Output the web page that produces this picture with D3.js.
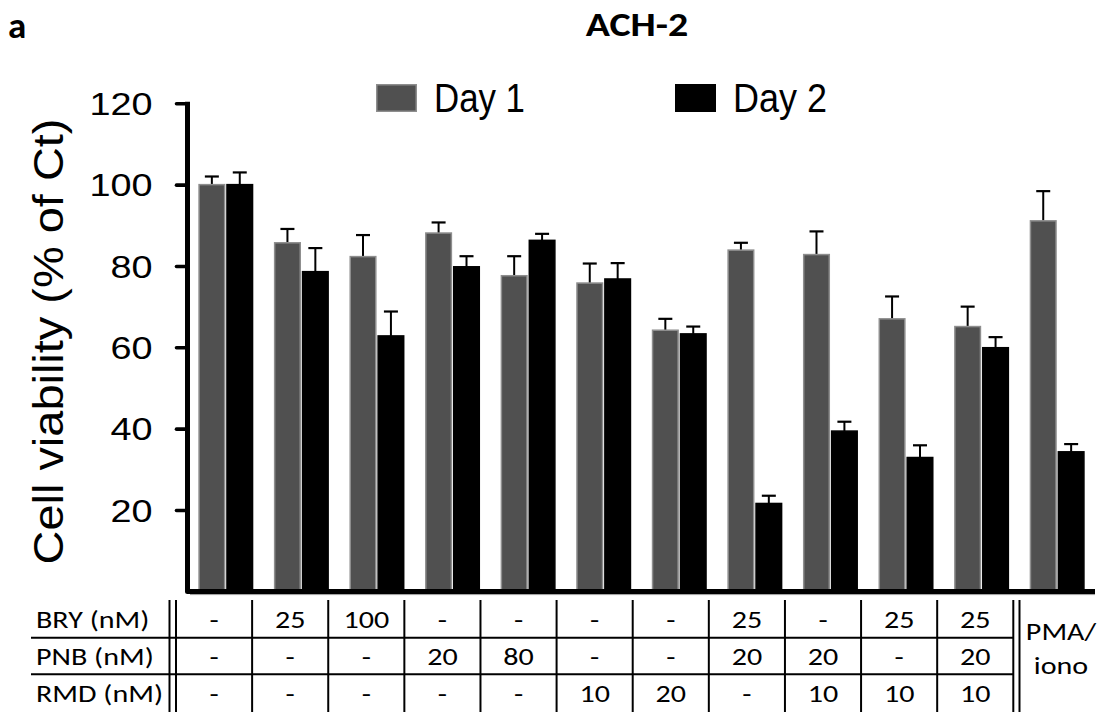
<!DOCTYPE html>
<html>
<head>
<meta charset="utf-8">
<script src="https://cdn.jsdelivr.net/npm/d3@7"></script>
<style>
  html, body { margin: 0; padding: 0; background: #fff; }
  svg { display: block; }
</style>
</head>
<body>
<svg id="chart" width="1101" height="712"></svg>
<script>
// Treatment conditions (one bar pair each)
const conditions = ["Ct", "BRY 25", "BRY 100", "PNB 20", "PNB 80", "RMD 10", "RMD 20",
  "BRY 25 + PNB 20", "PNB 20 + RMD 10", "BRY 25 + RMD 10", "BRY 25 + PNB 20 + RMD 10", "PMA/iono"];
const seriesNames = ["Day 1", "Day 2"];

// Cell viability (% of control) and upper error
const day1 = [100, 85.7, 82.3, 88.1, 77.6, 75.8, 64.2, 83.9, 82.8, 67.0, 65.1, 91.1];
const day1Err = [2.0, 3.4, 5.3, 2.6, 4.8, 4.8, 2.8, 1.8, 5.7, 5.5, 4.9, 7.3];
const day2 = [100, 78.6, 62.8, 79.8, 86.3, 76.8, 63.3, 21.6, 39.4, 32.9, 59.9, 34.3];
const day2Err = [3.0, 5.8, 6.0, 2.6, 1.6, 3.9, 1.8, 1.9, 2.3, 3.0, 2.6, 1.9];

// Y axis ticks
const yTicks = [20, 40, 60, 80, 100, 120];

// Treatment table rows (concentrations in nM)
const rowLabels = ["BRY (nM)", "PNB (nM)", "RMD (nM)"];
const BRY = ["-", "25", "100", "-", "-", "-", "-", "25", "-", "25", "25"];
const PNB = ["-", "-", "-", "20", "80", "-", "-", "20", "20", "-", "20"];
const RMD = ["-", "-", "-", "-", "-", "10", "20", "-", "10", "10", "10"];
const lastColumn = ["PMA/", "iono"];

const svg = d3.select("#chart");
svg.append("rect").attr("width", 1101).attr("height", 712).attr("fill", "#fff");

const colors = { "Day 1": "#505050", "Day 2": "#000000" };
const strokes = { "Day 1": "#8e8e8e", "Day 2": "#000000" };
const arial = "'Liberation Sans', Arial, sans-serif";
const calibri = "Carlito, Lato, sans-serif";
const wide = 1.18; // horizontal stretch used for the table labels

const y = d3.scaleLinear().domain([0, 120]).range([591.3, 103.3]);
const x0 = d3.scaleBand().domain(conditions).range([186, 1097]).paddingInner(0.2725).paddingOuter(0.163);
const x1 = d3.scaleBand().domain(seriesNames).range([0, x0.bandwidth()]).paddingInner(0.03);

const rows = conditions.map((c, i) => ({
  cond: c,
  vals: [
    { s: "Day 1", v: day1[i], e: day1Err[i] },
    { s: "Day 2", v: day2[i], e: day2Err[i] }
  ]
}));

// Bars
const g = svg.append("g");
const grp = g.selectAll("g.grp").data(rows).join("g")
  .attr("class", "grp")
  .attr("transform", d => `translate(${x0(d.cond)},0)`);

// error bars (upper only), drawn first so the bar covers the stem base
grp.selectAll("g.err").data(d => d.vals).join("g").attr("class", "err").each(function(d) {
  const cx = x1(d.s) + x1.bandwidth() / 2;
  const gg = d3.select(this);
  gg.append("line").attr("x1", cx).attr("x2", cx)
    .attr("y1", y(d.v)).attr("y2", y(d.v + d.e))
    .attr("stroke", "#000").attr("stroke-width", 2);
  gg.append("line").attr("x1", cx - 7).attr("x2", cx + 7)
    .attr("y1", y(d.v + d.e)).attr("y2", y(d.v + d.e))
    .attr("stroke", "#000").attr("stroke-width", 2.2);
});

grp.selectAll("rect").data(d => d.vals).join("rect")
  .attr("x", d => x1(d.s) + 0.75)
  .attr("width", x1.bandwidth() - 1.5)
  .attr("y", d => y(d.v))
  .attr("height", d => y(0) - y(d.v))
  .attr("fill", d => colors[d.s])
  .attr("stroke", d => strokes[d.s])
  .attr("stroke-width", 1.5);

// Y axis with ticks
const yAxis = d3.axisLeft(y).tickValues(yTicks).tickSize(11).tickSizeOuter(0).tickPadding(0);
const ax = svg.append("g").attr("transform", "translate(187.5,0)").call(yAxis);
ax.select(".domain").remove();
ax.selectAll(".tick line").attr("stroke", "#000").attr("stroke-width", 3.6).attr("stroke-linecap", "round");
ax.selectAll(".tick text")
  .attr("font-family", arial)
  .attr("font-size", 31)
  .attr("fill", "#000")
  .attr("text-anchor", "end")
  .attr("dy", "0.36em")
  .attr("x", 0)
  .attr("transform", "translate(-35,0) scale(1.22,1)");

// axis frame: vertical axis and baseline
svg.append("path")
  .attr("d", d3.line()([[187.5, y(120) - 1.5], [187.5, 591.5], [1095, 591.5]]))
  .attr("fill", "none").attr("stroke", "#000").attr("stroke-width", 5)
  .attr("stroke-linejoin", "round");
svg.append("line").attr("x1", 190).attr("x2", 1095).attr("y1", 594.6).attr("y2", 594.6)
  .attr("stroke", "#9a9a9a").attr("stroke-width", 1);

// Y axis title
svg.append("text")
  .attr("transform", "translate(63,341.5) rotate(-90)")
  .attr("text-anchor", "middle")
  .attr("font-family", arial)
  .attr("font-size", 43)
  .attr("textLength", 446)
  .attr("lengthAdjust", "spacingAndGlyphs")
  .text("Cell viability (% of Ct)");

// Legend
const legend = svg.append("g");
const legendX = { "Day 1": 376, "Day 2": 675 };
seriesNames.forEach(s => {
  legend.append("rect")
    .attr("x", legendX[s] + 0.75).attr("y", 84.75)
    .attr("width", 39.5).attr("height", 26.5)
    .attr("fill", colors[s]).attr("stroke", strokes[s]).attr("stroke-width", 1.5);
  legend.append("text")
    .attr("x", legendX[s] + 58).attr("y", 111.5)
    .attr("font-family", arial)
    .attr("font-size", 40)
    .attr("textLength", s === "Day 1" ? 91 : 94)
    .attr("lengthAdjust", "spacingAndGlyphs")
    .text(s);
});

// Panel letter and title
svg.append("text").attr("x", 8).attr("y", 37.5)
  .attr("font-family", calibri).attr("font-weight", 700)
  .attr("font-size", 37).text("a");
svg.append("text").attr("transform", "translate(637,35.5) scale(1.14,1)").attr("text-anchor", "middle")
  .attr("font-family", calibri).attr("font-weight", 700)
  .attr("font-size", 35).text("ACH-2");

// Treatment table
const tableCols = d3.range(BRY.length);
const tx = d3.scaleBand().domain(tableCols).range([176, 1013.3]);
const rowY = d3.scaleBand().domain(rowLabels).range([601, 711]);
const tbl = svg.append("g")
  .attr("font-family", calibri)
  .attr("font-size", 25.5)
  .attr("fill", "#000");
const lineStyle = sel => sel.attr("stroke", "#000").attr("stroke-width", 2);
const place = (xx, yy) => `translate(${xx},${yy}) scale(${wide},1)`;

// horizontal row separators
[rowY("PNB (nM)"), rowY("RMD (nM)")].forEach(yy => {
  tbl.append("line").attr("x1", 31).attr("x2", 1013.3).attr("y1", yy).attr("y2", yy).call(lineStyle);
});
// vertical column separators
tableCols.slice(1).forEach(c => {
  tbl.append("line").attr("x1", tx(c)).attr("x2", tx(c)).attr("y1", 600).attr("y2", 712).call(lineStyle);
});
// double separators
[169.5, 176, 1013.3, 1019.5].forEach(xx => {
  tbl.append("line").attr("x1", xx).attr("x2", xx).attr("y1", 600).attr("y2", 712).call(lineStyle);
});

const tableRows = [BRY, PNB, RMD];
rowLabels.forEach((lab, r) => {
  const base = rowY(lab) + rowY.bandwidth() / 2 + 9;
  tbl.append("text").attr("transform", place(36, base)).text(lab);
  tableRows[r].forEach((v, c) => {
    tbl.append("text")
      .attr("transform", place(tx(c) + tx.bandwidth() / 2, base))
      .attr("text-anchor", "middle")
      .text(v);
  });
});
lastColumn.forEach((t, i) => {
  tbl.append("text").attr("transform", place(1061, 640 + i * 33.5))
    .attr("text-anchor", "middle").text(t);
});
</script>
</body>
</html>
